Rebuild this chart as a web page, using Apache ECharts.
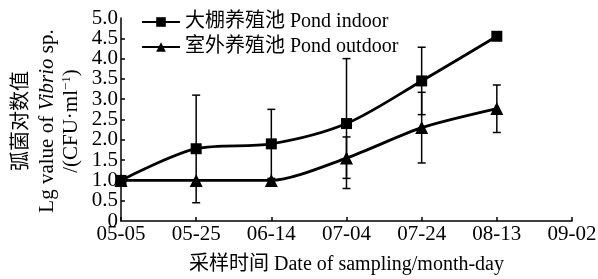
<!DOCTYPE html>
<html>
<head>
<meta charset="utf-8">
<script src="https://cdn.jsdelivr.net/npm/echarts@6/dist/echarts.min.js"></script>
<style>
  html, body { margin: 0; padding: 0; background: #fff; }
  #chart { width: 598px; height: 279px; }
</style>
</head>
<body>
<div id="chart"></div>
<script>
const dates = ['05-05', '05-25', '06-14', '07-04', '07-24', '08-13', '09-02'];
const indoor = [1.0, 1.78, 1.9, 2.4, 3.45, 4.55];
const outdoor = [1.0, 1.0, 1.0, 1.55, 2.3, 2.77];
// error bars: [date index, low, high]
const indoorErr = [[1, 0.45, 3.1], [2, 1.05, 2.75], [3, 0.8, 4.0], [4, 2.62, 4.28]];
const outdoorErr = [[3, 1.05, 2.07], [4, 1.43, 3.17], [5, 2.18, 3.35]];

const font = '"Liberation Serif", "Times New Roman", serif';
const cjkFont = '"Liberation Serif", "Noto Sans CJK SC", serif';
const yFmt = v => v === 0 ? '0' : v.toFixed(1);

function errorBar(params, api) {
  const x = api.value(0);
  const lo = api.coord([x, api.value(1)]);
  const hi = api.coord([x, api.value(2)]);
  const w = 4;
  const style = { stroke: '#000', lineWidth: 1.5 };
  return {
    type: 'group',
    children: [
      { type: 'line', shape: { x1: hi[0], y1: hi[1], x2: lo[0], y2: lo[1] }, style },
      { type: 'line', shape: { x1: hi[0] - w, y1: hi[1], x2: hi[0] + w, y2: hi[1] }, style },
      { type: 'line', shape: { x1: lo[0] - w, y1: lo[1], x2: lo[0] + w, y2: lo[1] }, style }
    ]
  };
}

const chart = echarts.init(document.getElementById('chart'));
chart.setOption({
  animation: false,
  grid: { left: 121, right: 26, top: 18, bottom: 58, containLabel: false, outerBoundsMode: 'none' },
  legend: {
    data: ['大棚养殖池 Pond indoor', '室外养殖池 Pond outdoor'],
    orient: 'vertical',
    left: 136, top: 7,
    itemWidth: 38, itemHeight: 12, itemGap: 5,
    textStyle: { fontFamily: cjkFont, fontSize: 20, color: '#000', lineHeight: 20 }
  },
  xAxis: {
    type: 'category',
    data: dates,
    boundaryGap: false,
    axisLine: { lineStyle: { color: '#000', width: 1.5 } },
    axisTick: { inside: true, length: 4, lineStyle: { color: '#000', width: 1.5 } },
    axisLabel: { color: '#000', fontFamily: font, fontSize: 21, margin: 3, interval: 0,
      showMinLabel: true, showMaxLabel: true, hideOverlap: false },
    name: '采样时间 Date of sampling/month-day',
    nameLocation: 'middle',
    nameGap: 34,
    nameTextStyle: { color: '#000', fontFamily: cjkFont, fontSize: 20 }
  },
  yAxis: [
    {
      type: 'value',
      min: 0, max: 5, interval: 0.5,
      splitLine: { show: false },
      axisLine: { show: true, lineStyle: { color: '#000', width: 1.5 } },
      axisTick: { show: true, inside: true, length: 4, lineStyle: { color: '#000', width: 1.5 } },
      axisLabel: {
        color: '#000', fontFamily: font, fontSize: 21, margin: 3,
        showMinLabel: false, showMaxLabel: false, formatter: yFmt
      }
    },
    {
      // end labels 0 and 5.0 only
      type: 'value', position: 'left',
      min: 0, max: 5, interval: 5,
      splitLine: { show: false },
      axisLine: { show: false },
      axisTick: { show: false },
      axisLabel: {
        color: '#000', fontFamily: font, fontSize: 21, margin: 3,
        showMinLabel: true, showMaxLabel: true, formatter: yFmt
      }
    }
  ],
  graphic: [
    { type: 'text', x: 22, y: 121, rotation: Math.PI / 2,
      style: { text: '弧菌对数值', font: '20px ' + cjkFont, fill: '#000', align: 'center', verticalAlign: 'middle' } },
    { type: 'text', x: 47, y: 121, rotation: Math.PI / 2,
      style: {
        text: '{n|Lg value of }{i|Vibrio}{n| sp.}',
        align: 'center', verticalAlign: 'middle',
        rich: {
          n: { fontFamily: font, fontSize: 21, fill: '#000' },
          i: { fontFamily: font, fontSize: 21, fontStyle: 'italic', fill: '#000' }
        }
      } },
    { type: 'text', x: 71, y: 121, rotation: Math.PI / 2,
      style: {
        text: '{n|/(CFU·ml}{s|−1}{n|)}',
        align: 'center', verticalAlign: 'middle',
        rich: {
          n: { fontFamily: font, fontSize: 21, fill: '#000' },
          s: { fontFamily: font, fontSize: 13, fill: '#000', verticalAlign: 'top', padding: [0, 0, 8, 0] }
        }
      } }
  ],
  series: [
    {
      name: '大棚养殖池 Pond indoor',
      type: 'line',
      data: indoor,
      smooth: 0.3,
      symbol: 'rect', symbolSize: 11,
      lineStyle: { color: '#000', width: 2.8 },
      itemStyle: { color: '#000' },
      z: 3
    },
    {
      name: '室外养殖池 Pond outdoor',
      type: 'line',
      data: outdoor,
      smooth: 0.25,
      symbol: 'triangle', symbolSize: 13,
      lineStyle: { color: '#000', width: 2.8 },
      itemStyle: { color: '#000' },
      z: 3
    },
    { type: 'custom', renderItem: errorBar, data: indoorErr, z: 2 },
    { type: 'custom', renderItem: errorBar, data: outdoorErr, z: 2 }
  ]
});
</script>
</body>
</html>
